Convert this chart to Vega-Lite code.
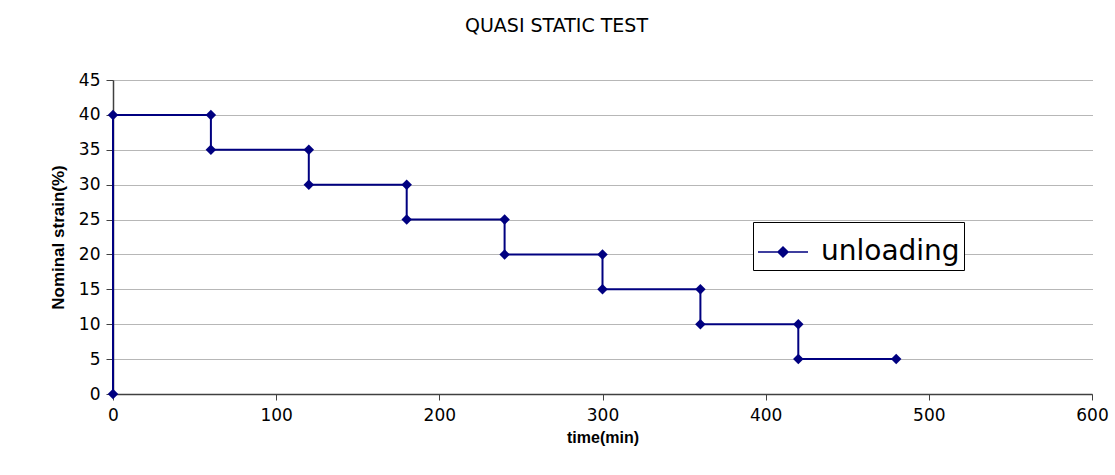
{
  "$schema": "https://vega.github.io/schema/vega-lite/v6.json",
  "width": 979,
  "height": 314,
  "autosize": {"type": "none"},
  "padding": {"left": 113, "top": 80, "right": 23, "bottom": 81},
  "background": "white",
  "title": {
    "text": "QUASI STATIC TEST",
    "font": "DejaVu Sans",
    "fontSize": 19,
    "fontWeight": "normal",
    "color": "black",
    "anchor": "middle",
    "dx": -46,
    "offset": 35
  },
  "data": {
    "values": [
      {"t": 0, "strain": 0, "series": "unloading"},
      {"t": 0, "strain": 40, "series": "unloading"},
      {"t": 60, "strain": 40, "series": "unloading"},
      {"t": 60, "strain": 35, "series": "unloading"},
      {"t": 120, "strain": 35, "series": "unloading"},
      {"t": 120, "strain": 30, "series": "unloading"},
      {"t": 180, "strain": 30, "series": "unloading"},
      {"t": 180, "strain": 25, "series": "unloading"},
      {"t": 240, "strain": 25, "series": "unloading"},
      {"t": 240, "strain": 20, "series": "unloading"},
      {"t": 300, "strain": 20, "series": "unloading"},
      {"t": 300, "strain": 15, "series": "unloading"},
      {"t": 360, "strain": 15, "series": "unloading"},
      {"t": 360, "strain": 10, "series": "unloading"},
      {"t": 420, "strain": 10, "series": "unloading"},
      {"t": 420, "strain": 5, "series": "unloading"},
      {"t": 480, "strain": 5, "series": "unloading"}
    ]
  },
  "encoding": {
    "x": {
      "field": "t",
      "type": "quantitative",
      "scale": {"domain": [0, 600], "nice": false},
      "axis": {
        "title": "time(min)",
        "values": [0, 100, 200, 300, 400, 500, 600],
        "grid": false,
        "domainColor": "#404040",
        "domainWidth": 1.5,
        "tickColor": "#404040",
        "tickSize": 6,
        "labelFont": "DejaVu Sans",
        "labelFontSize": 17,
        "labelColor": "black",
        "labelPadding": 7,
        "labelFlush": false,
        "titleFont": "Liberation Sans",
        "titleFontSize": 16,
        "titleFontWeight": "bold",
        "titleColor": "black",
        "titlePadding": 6
      }
    },
    "y": {
      "field": "strain",
      "type": "quantitative",
      "scale": {"domain": [0, 45], "nice": false},
      "axis": {
        "title": "Nominal strain(%)",
        "values": [0, 5, 10, 15, 20, 25, 30, 35, 40, 45],
        "grid": true,
        "gridColor": "#6e6e6e",
        "gridDash": [1, 1],
        "gridWidth": 1,
        "domainColor": "#404040",
        "domainWidth": 1.5,
        "tickColor": "#404040",
        "tickSize": 7,
        "labelFont": "DejaVu Sans",
        "labelFontSize": 17,
        "labelColor": "black",
        "labelPadding": 6,
        "titleFont": "Liberation Sans",
        "titleFontSize": 17,
        "titleFontWeight": "bold",
        "titleColor": "black",
        "titlePadding": 11
      }
    },
    "color": {
      "field": "series",
      "type": "nominal",
      "scale": {"range": ["#000080"]},
      "legend": {
        "title": null,
        "orient": "none",
        "legendX": 640,
        "legendY": 142,
        "strokeColor": "black",
        "fillColor": "white",
        "padding": 4,
        "symbolType": "M-1,0H1M0,-0.2L0.2,0L0,0.2L-0.2,0Z",
        "symbolSize": 2500,
        "symbolStrokeWidth": 1.5,
        "symbolFillColor": "#000080",
        "symbolStrokeColor": "#000080",
        "labelFont": "DejaVu Sans",
        "labelFontSize": 28,
        "labelColor": "black",
        "labelOffset": 12
      }
    }
  },
  "layer": [
    {"mark": {"type": "line", "strokeWidth": 2, "interpolate": "linear"}},
    {"mark": {"type": "point", "shape": "diamond", "filled": true, "size": 110, "opacity": 1}}
  ],
  "config": {
    "view": {"stroke": null}
  }
}
